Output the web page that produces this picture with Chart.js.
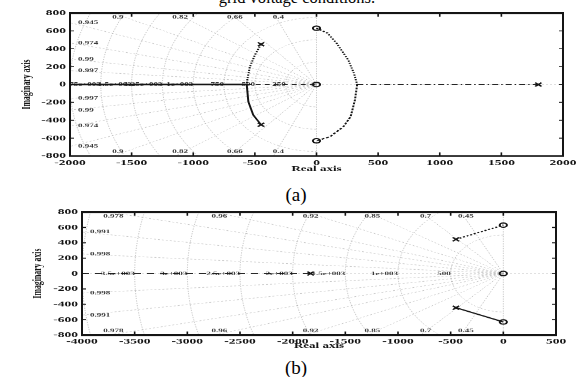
<!DOCTYPE html>
<html>
<head>
<meta charset="utf-8">
<script src="https://cdn.jsdelivr.net/npm/chart.js@4.4.1/dist/chart.umd.min.js"></script>
<style>
  html, body { margin: 0; padding: 0; background: #fff; width: 580px; height: 377px; overflow: hidden; position: relative; }
  .panel { position: absolute; left: 0; transform: scaleY(0.6); transform-origin: 0 0; }
  .cap { position: absolute; left: 0; text-align: center; white-space: nowrap; color: #000;
         font-family: "Liberation Serif", "Times New Roman", serif; line-height: 1; }
</style>
</head>
<body>
<div class="cap" style="width:594px; top:-10px; font-size:16.5px;">grid voltage conditions.</div>
<div class="panel" style="top:0;"><canvas id="plotA" width="580" height="300"></canvas></div>
<div class="cap" style="width:592px; top:185px; font-size:19px;">(a)</div>
<div class="panel" style="top:196px;"><canvas id="plotB" width="580" height="260"></canvas></div>
<div class="cap" style="width:592px; top:358px; font-size:19px;">(b)</div>

<script>
// ---------- panel (a): root locus ----------
const aXTicks = [-2000, -1500, -1000, -500, 0, 500, 1000, 1500, 2000];
const aXTickText = ['-2000', '-1500', '-1000', '-500', '0', '500', '1000', '1500', '2000'];
const aYTicks = [-800, -600, -400, -200, 0, 200, 400, 600, 800];
const aYTickText = ['-800', '-600', '-400', '-200', '0', '200', '400', '600', '800'];
const aDamping = [0.4, 0.66, 0.82, 0.9, 0.945, 0.974, 0.99, 0.997];
const aDampingText = ['0.4', '0.66', '0.82', '0.9', '0.945', '0.974', '0.99', '0.997'];
const aFreq = [250, 500, 750, 1000, 1250, 1500, 1750, 2000];
const aFreqText = ['250', '500', '750', '1e+003', '1.25e+003', '1.5e+003', '1.75e+003', ''];

const aPoleRe = [-450, -450, 1800];
const aPoleIm = [450, -450, 0];
const aZeroRe = [0, 0, 0];
const aZeroIm = [630, 0, -630];
const aUpLeftRe = [-450, -500, -540, -561, -566];
const aUpLeftIm = [450, 330, 200, 60, 0];
const aLowLeftRe = [-566, -562, -553, -513, -450];
const aLowLeftIm = [0, -60, -192, -341, -450];
const aUpRightRe = [0, 90, 164, 258, 304, 330];
const aUpRightIm = [630, 575, 461, 274, 125, 0];
const aLowRightRe = [330, 312, 277, 218, 110, 0];
const aLowRightIm = [0, -173, -360, -472, -584, -630];
const aNegRealRe = [-2000, -566];
const aMidRealRe = [-566, 0];
const aPosRealRe = [330, 1800];
const aRealIm = [0, 0];

// ---------- panel (b): root locus ----------
const bXTicks = [-4000, -3500, -3000, -2500, -2000, -1500, -1000, -500, 0, 500];
const bXTickText = ['-4000', '-3500', '-3000', '-2500', '-2000', '-1500', '-1000', '-500', '0', '500'];
const bYTicks = [-800, -600, -400, -200, 0, 200, 400, 600, 800];
const bYTickText = ['-800', '-600', '-400', '-200', '0', '200', '400', '600', '800'];
const bDamping = [0.45, 0.7, 0.85, 0.92, 0.96, 0.978, 0.991, 0.998];
const bDampingText = ['0.45', '0.7', '0.85', '0.92', '0.96', '0.978', '0.991', '0.998'];
const bFreq = [500, 1000, 1500, 2000, 2500, 3000, 3500, 4000];
const bFreqText = ['500', '1e+003', '1.5e+003', '2e+003', '2.5e+003', '3e+003', '3.5e+003', ''];

const bPoleRe = [-450, -450, -1830];
const bPoleIm = [445, -445, 0];
const bZeroRe = [0, 0, 0];
const bZeroIm = [630, 0, -630];
const bUpRe = [-450, 0];
const bUpIm = [445, 630];
const bLowRe = [-450, 0];
const bLowIm = [-445, -630];
const bRealRe = [-4000, -1830];
const bRealIm = [0, 0];

const SERIF = "'Liberation Serif', 'Times New Roman', serif";
const INK = '#151515';

function pts(re, im) { return re.map((r, i) => ({ x: r, y: im[i] })); }

function branch(re, im, width, dash) {
  return { data: pts(re, im), showLine: true, pointRadius: 0, borderColor: INK,
           borderWidth: width, borderDash: dash, fill: false };
}
function markers(re, im, style) {
  return { data: pts(re, im), showLine: false, pointStyle: style,
           pointRadius: style === 'circle' ? 3.6 : 4.5, pointBorderWidth: 2,
           pointBorderColor: INK, pointBackgroundColor: 'rgba(0,0,0,0)' };
}

// constant-damping rays and constant-frequency arcs, drawn through the chart scales
const sgrid = {
  id: 'sgrid',
  beforeDatasetsDraw(chart, args, o) {
    const { ctx, chartArea: a, scales: { x, y } } = chart;
    const x0 = x.getPixelForValue(0), y0 = y.getPixelForValue(0);
    ctx.save();
    ctx.beginPath();
    ctx.rect(a.left, a.top, a.right - a.left, a.bottom - a.top);
    ctx.clip();
    ctx.strokeStyle = 'rgba(165,165,165,0.6)';
    ctx.lineWidth = 1;
    ctx.setLineDash([2, 2]);
    // real and imaginary axes
    ctx.beginPath();
    ctx.moveTo(a.left, y0); ctx.lineTo(a.right, y0);
    ctx.moveTo(x0, a.top); ctx.lineTo(x0, a.bottom);
    ctx.stroke();
    const R = 1e5;
    for (const z of o.damping) {
      const s = Math.sqrt(1 - z * z);
      ctx.beginPath();
      ctx.moveTo(x0, y0); ctx.lineTo(x.getPixelForValue(-z * R), y.getPixelForValue(s * R));
      ctx.moveTo(x0, y0); ctx.lineTo(x.getPixelForValue(-z * R), y.getPixelForValue(-s * R));
      ctx.stroke();
    }
    for (const w of o.freq) {
      ctx.beginPath();
      for (let k = 0; k <= 180; k++) {
        const f = Math.PI / 2 + k * Math.PI / 180;
        const px = x.getPixelForValue(w * Math.cos(f)), py = y.getPixelForValue(w * Math.sin(f));
        if (k === 0) ctx.moveTo(px, py); else ctx.lineTo(px, py);
      }
      ctx.stroke();
    }
    // labels
    ctx.setLineDash([]);
    ctx.fillStyle = '#3a3a3a';
    ctx.font = 'bold 9px ' + SERIF;
    const xmin = x.min, ymax = y.max;
    o.damping.forEach((z, i) => {
      const s = Math.sqrt(1 - z * z);
      const xv = -ymax * z / s;
      if (xv >= xmin) {
        const px = x.getPixelForValue(xv) + 5;
        ctx.textAlign = 'center';
        ctx.textBaseline = 'top';
        ctx.fillText(o.dampingText[i], px, a.top + 2);
        ctx.textBaseline = 'bottom';
        ctx.fillText(o.dampingText[i], px, a.bottom - 3);
      } else {
        const yv = -xmin * s / z;
        ctx.textAlign = 'left';
        ctx.textBaseline = 'middle';
        ctx.fillText(o.dampingText[i], a.left + 8, y.getPixelForValue(yv));
        ctx.fillText(o.dampingText[i], a.left + 8, y.getPixelForValue(-yv));
      }
    });
    ctx.textAlign = 'right';
    ctx.textBaseline = 'middle';
    o.freq.forEach((w, i) => {
      if (o.freqText[i]) ctx.fillText(o.freqText[i], x.getPixelForValue(-w), y0);
    });
    ctx.restore();
  }
};

// box frame with inward tick marks on all four sides
const frame = {
  id: 'frame',
  afterDraw(chart) {
    const { ctx, chartArea: a, scales: { x, y } } = chart;
    ctx.save();
    ctx.strokeStyle = INK;
    ctx.lineWidth = 1.6;
    ctx.beginPath();
    x.ticks.forEach(t => {
      const px = x.getPixelForValue(t.value);
      ctx.moveTo(px, a.top); ctx.lineTo(px, a.top + 6);
      ctx.moveTo(px, a.bottom); ctx.lineTo(px, a.bottom - 6);
    });
    y.ticks.forEach(t => {
      const py = y.getPixelForValue(t.value);
      ctx.moveTo(a.left, py); ctx.lineTo(a.left + 4, py);
      ctx.moveTo(a.right, py); ctx.lineTo(a.right - 4, py);
    });
    ctx.stroke();
    ctx.lineWidth = 3.2;
    ctx.beginPath();
    ctx.moveTo(a.left - 1, a.top); ctx.lineTo(a.right + 1, a.top);
    ctx.moveTo(a.left - 1, a.bottom); ctx.lineTo(a.right + 1, a.bottom);
    ctx.stroke();
    ctx.lineWidth = 2;
    ctx.beginPath();
    ctx.moveTo(a.left, a.top); ctx.lineTo(a.left, a.bottom);
    ctx.moveTo(a.right, a.top); ctx.lineTo(a.right, a.bottom);
    ctx.stroke();
    ctx.restore();
  }
};

function makePanel(id, p) {
  const tickFont = { family: SERIF, size: 13.5, weight: 'bold' };
  const titleFont = { family: SERIF, size: 13, weight: 'bold', lineHeight: 1.2 };
  return new Chart(document.getElementById(id), {
    type: 'scatter',
    data: { datasets: p.datasets },
    plugins: [sgrid, frame],
    options: {
      responsive: false, animation: false, devicePixelRatio: 1,
      layout: { padding: p.padding },
      plugins: {
        legend: { display: false }, tooltip: { enabled: false },
        sgrid: { damping: p.damping, dampingText: p.dampingText, freq: p.freq, freqText: p.freqText }
      },
      scales: {
        x: {
          type: 'linear', min: p.xTicks[0], max: p.xTicks[p.xTicks.length - 1],
          afterBuildTicks: s => { s.ticks = p.xTicks.map(v => ({ value: v })); },
          ticks: { font: tickFont, color: INK, padding: 3, maxRotation: 0, autoSkip: false,
                   callback: (v, i) => p.xTickText[i] },
          grid: { display: false, drawTicks: false, tickLength: 0 },
          border: { display: false },
          title: { display: true, text: 'Real axis', font: titleFont, color: INK, padding: 0 },
          afterFit: s => { s.height = p.xAxisH; s.paddingLeft = 0; s.paddingRight = 0; }
        },
        y: {
          type: 'linear', min: p.yTicks[0], max: p.yTicks[p.yTicks.length - 1],
          afterBuildTicks: s => { s.ticks = p.yTicks.map(v => ({ value: v })); },
          ticks: { font: tickFont, color: INK, padding: 4, autoSkip: false,
                   callback: (v, i) => p.yTickText[i] },
          grid: { display: false, drawTicks: false, tickLength: 0 },
          border: { display: false },
          title: { display: true, text: 'Imaginary axis', font: titleFont, color: INK, padding: 0 },
          afterFit: s => { s.width = p.yAxisW; s.paddingTop = 0; s.paddingBottom = 0; }
        }
      }
    }
  });
}

makePanel('plotA', {
  xTicks: aXTicks, xTickText: aXTickText, yTicks: aYTicks, yTickText: aYTickText,
  damping: aDamping, dampingText: aDampingText, freq: aFreq, freqText: aFreqText,
  padding: { left: 19.2, right: 17, top: 21.7, bottom: 10.5 }, yAxisW: 50.8, xAxisH: 29.5,
  datasets: [
    branch(aNegRealRe, aRealIm, 2.6, []),
    branch(aMidRealRe, aRealIm, 1.8, [5, 4]),
    branch(aPosRealRe, aRealIm, 1.8, [6, 3, 1.5, 3]),
    branch(aUpLeftRe, aUpLeftIm, 2, [2, 2]),
    branch(aLowLeftRe, aLowLeftIm, 2, []),
    branch(aUpRightRe, aUpRightIm, 2, [2, 2]),
    branch(aLowRightRe, aLowRightIm, 2, [3, 2]),
    markers(aPoleRe, aPoleIm, 'crossRot'),
    markers(aZeroRe, aZeroIm, 'circle')
  ]
});

makePanel('plotB', {
  xTicks: bXTicks, xTickText: bXTickText, yTicks: bYTicks, yTickText: bYTickText,
  damping: bDamping, dampingText: bDampingText, freq: bFreq, freqText: bFreqText,
  padding: { left: 29.7, right: 24, top: 26.7, bottom: 2.2 }, yAxisW: 52.3, xAxisH: 26.1,
  datasets: [
    branch(bRealRe, bRealIm, 1.8, [7, 6]),
    branch(bUpRe, bUpIm, 2, [2, 2]),
    branch(bLowRe, bLowIm, 2, []),
    markers(bPoleRe, bPoleIm, 'crossRot'),
    markers(bZeroRe, bZeroIm, 'circle')
  ]
});
</script>
</body>
</html>
